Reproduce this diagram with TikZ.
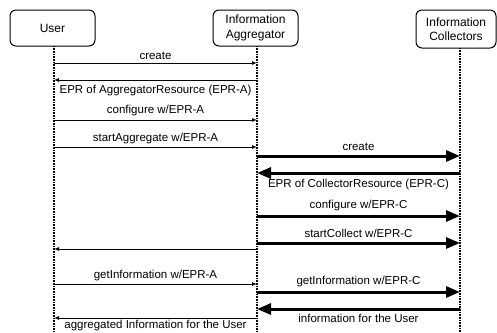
\documentclass[tikz,border=0pt]{standalone}
\usepackage{fontspec}
\setmainfont{Liberation Sans}
\usetikzlibrary{arrows.meta}
\begin{document}
\begin{tikzpicture}[x=1pt,y=-1pt,
  actor/.style={draw, rounded corners=6pt, line width=1pt, align=center,
    font=\fontsize{12}{14.5}\selectfont, inner sep=0pt},
  life/.style={line width=1.5pt, dash pattern=on 0.8pt off 0.8pt},
  thinmsg/.style={line width=1pt, -{Latex[length=5pt,width=4pt]}},
  thickmsg/.style={line width=3pt, -{Triangle[length=14pt,width=11pt]}},
  lbl/.style={font=\fontsize{11.5}{12}\selectfont, inner sep=0pt}
]
\useasboundingbox (0,0) rectangle (497,332);
% actors
\node[actor, minimum width=85pt, minimum height=36pt] (user) at (52.5,28) {User};
\node[actor, minimum width=85pt, minimum height=36pt] (agg) at (255.5,28) {Information\\Aggregator};
\node[actor, minimum width=80pt, minimum height=38pt] (col) at (456,29) {Information\\Collectors};
% lifelines
\coordinate (ut) at (54,46);  \coordinate (ub) at (54,332);
\coordinate (at) at (257,46); \coordinate (ab) at (257,332);
\coordinate (ct) at (460,48); \coordinate (cb) at (460,332);
\draw[life] (ut) -- (ub);
\draw[life] (at) -- (ab);
\draw[life] (ct) -- (cb);
% messages
\coordinate (u1) at (54,63);  \coordinate (a1) at (257,63);
\draw[thinmsg] (u1) -- node[lbl, above=2.5pt]{create} (a1);
\coordinate (u2) at (54,80);  \coordinate (a2) at (257,80);
\draw[thinmsg] (a2) -- node[lbl, below=5pt]{EPR of AggregatorResource (EPR-A)} (u2);
\coordinate (u3) at (54,120); \coordinate (a3) at (257,120);
\draw[thinmsg] (u3) -- node[lbl, above=4pt]{configure w/EPR-A} (a3);
\coordinate (u4) at (54,147); \coordinate (a4) at (257,147);
\draw[thinmsg] (u4) -- node[lbl, above=3pt]{startAggregate w/EPR-A} (a4);
\coordinate (a5) at (257,156); \coordinate (c5) at (460,156);
\draw[thickmsg] (a5) -- node[lbl, above=4pt]{create} (c5);
\coordinate (a6) at (257,173); \coordinate (c6) at (460,173);
\draw[thickmsg] (c6) -- node[lbl, below=5pt]{EPR of CollectorResource (EPR-C)} (a6);
\coordinate (a7) at (257,216); \coordinate (c7) at (460,216);
\draw[thickmsg] (a7) -- node[lbl, above=4pt]{configure w/EPR-C} (c7);
\coordinate (a8) at (257,243); \coordinate (c8) at (460,243);
\draw[thickmsg] (a8) -- node[lbl, above=4pt]{startCollect w/EPR-C} (c8);
\coordinate (u9) at (54,249); \coordinate (a9) at (257,249);
\draw[thinmsg] (a9) -- (u9);
\coordinate (u10) at (54,284); \coordinate (a10) at (257,284);
\draw[thinmsg] (u10) -- node[lbl, above=3pt]{getInformation w/EPR-A} (a10);
\coordinate (a11) at (257,292); \coordinate (c11) at (460,292);
\draw[thickmsg] (a11) -- node[lbl, above=4pt]{getInformation w/EPR-C} (c11);
\coordinate (a12) at (257,309); \coordinate (c12) at (460,309);
\draw[thickmsg] (c12) -- node[lbl, below=4pt]{information for the User} (a12);
\coordinate (u13) at (54,318); \coordinate (a13) at (257,318);
\draw[thinmsg] (a13) -- node[lbl, below=2pt]{aggregated Information for the User} (u13);
\end{tikzpicture}
\end{document}
